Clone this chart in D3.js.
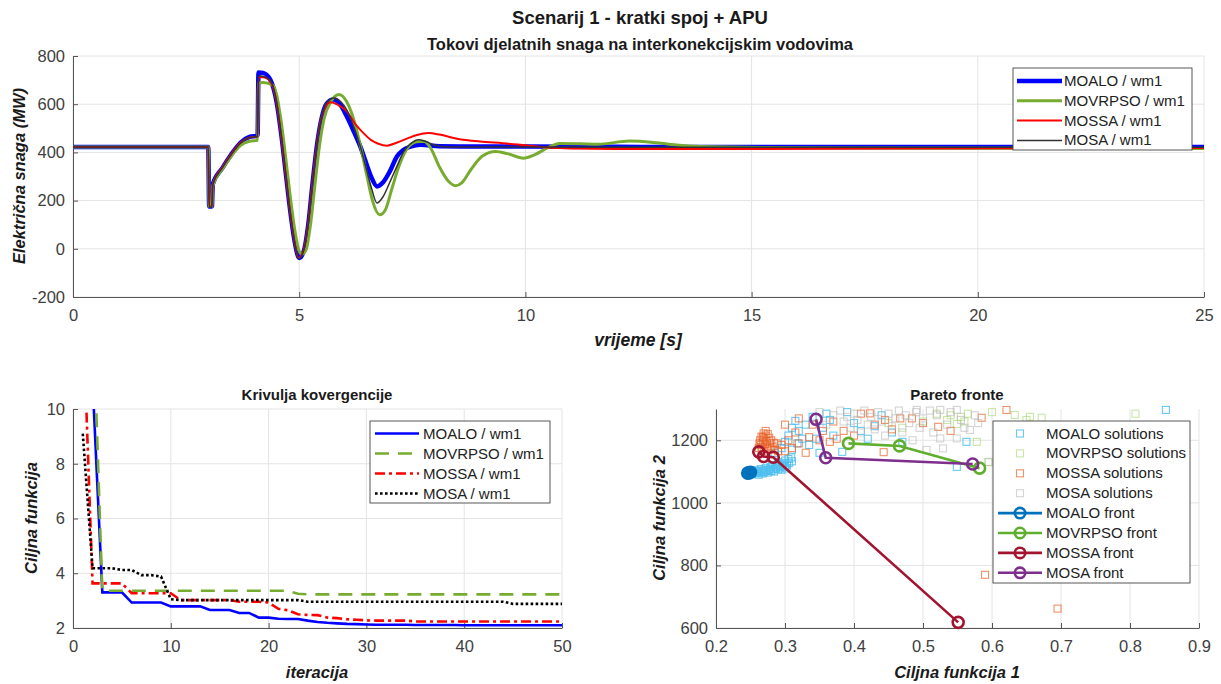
<!DOCTYPE html>
<html><head><meta charset="utf-8">
<script src="https://cdn.jsdelivr.net/npm/d3@7"></script>
<style>
body{margin:0;background:#fff}
text{font-family:"Liberation Sans",Arial,Helvetica,sans-serif}
</style>
</head><body>
<svg id="c" width="1221" height="684"></svg>
<script>
// ---------- DATA ----------
const algorithms = ["MOALO", "MOVRPSO", "MOSSA", "MOSA"];

// Top chart: active power flow [time s, MW]
const powerMOALO = [[0,422],[2.99,422],[3.01,176],[3.07,176],[3.09,268],[3.3,335],[3.5,392],[3.7,440],[3.9,464],[4.08,470],[4.1,732],[4.2,730],[4.36,702],[4.5,610],[4.6,480],[4.7,320],[4.8,160],[4.9,30],[5.0,-38],[5.1,-10],[5.2,100],[5.3,280],[5.4,440],[5.5,545],[5.6,600],[5.76,619],[5.9,600],[6.05,550],[6.2,490],[6.35,425],[6.5,345],[6.6,295],[6.72,259],[6.85,275],[7.0,320],[7.16,383],[7.3,410],[7.46,424],[7.68,432],[8.1,426],[9,424],[10,424],[12,423],[15,422],[20,422],[25,422]];
const powerMOVRPSO = [[0,422],[2.99,422],[3.01,176],[3.07,176],[3.09,262],[3.3,330],[3.5,385],[3.7,428],[3.9,446],[4.08,450],[4.1,688],[4.2,690],[4.4,680],[4.5,640],[4.6,530],[4.7,380],[4.8,220],[4.9,80],[5.0,-10],[5.06,-22],[5.15,-5],[5.25,100],[5.35,270],[5.45,430],[5.55,540],[5.7,610],[5.88,640],[6.05,610],[6.2,540],[6.35,430],[6.5,300],[6.62,200],[6.78,141],[6.9,160],[7.05,250],[7.2,340],[7.4,420],[7.6,444],[7.75,446],[7.9,420],[8.1,340],[8.3,280],[8.45,262],[8.6,275],[8.8,330],[9.05,385],[9.34,404],[9.6,395],[9.96,376],[10.2,390],[10.5,420],[10.76,437],[11.2,436],[11.6,434],[12.3,447],[12.9,440],[13.4,430],[14.5,422],[17,418],[25,416]];
const powerMOSSA = [[0,422],[2.99,422],[3.01,176],[3.07,176],[3.09,270],[3.3,338],[3.5,394],[3.7,440],[3.9,462],[4.08,466],[4.1,712],[4.2,712],[4.36,695],[4.5,605],[4.6,470],[4.7,310],[4.8,150],[4.9,25],[4.98,-38],[5.08,-15],[5.2,110],[5.3,290],[5.4,450],[5.5,550],[5.69,608],[5.85,598],[6.05,570],[6.25,515],[6.42,480],[6.6,450],[6.75,436],[6.94,428],[7.15,440],[7.38,457],[7.6,472],[7.86,480],[8.1,474],[8.49,457],[9.0,445],[9.5,438],[10,430],[10.5,420],[11,416],[12,414],[14,414],[18,416],[25,418]];
const powerMOSA = [[0,422],[2.99,422],[3.01,172],[3.07,172],[3.09,268],[3.3,336],[3.5,392],[3.7,438],[3.9,462],[4.08,466],[4.1,718],[4.2,716],[4.36,698],[4.5,610],[4.6,478],[4.7,318],[4.8,155],[4.9,25],[4.99,-40],[5.08,-18],[5.2,105],[5.3,285],[5.4,445],[5.5,550],[5.6,605],[5.78,626],[5.92,610],[6.05,577],[6.2,510],[6.35,425],[6.5,320],[6.6,250],[6.72,190],[6.85,215],[7.0,275],[7.16,342],[7.3,400],[7.46,436],[7.64,453],[7.8,445],[7.97,432],[8.27,422],[10,422],[15,421],[25,421]];
const timeTicks = [0, 5, 10, 15, 20, 25];
const powerTicks = [-200, 0, 200, 400, 600, 800];

// Bottom-left: convergence, objective per iteration 1..50
const convMOALO = [25,11,3.3,3.3,3.3,2.93,2.93,2.93,2.93,2.79,2.79,2.79,2.79,2.66,2.66,2.66,2.55,2.55,2.38,2.38,2.34,2.33,2.33,2.27,2.22,2.19,2.17,2.15,2.14,2.13,2.12,2.12,2.12,2.12,2.11,2.11,2.11,2.11,2.11,2.1,2.1,2.1,2.1,2.1,2.1,2.1,2.1,2.1,2.1,2.1];
const convMOVRPSO = [30,14,3.36,3.36,3.36,3.36,3.36,3.36,3.36,3.36,3.36,3.36,3.36,3.36,3.36,3.36,3.36,3.36,3.36,3.36,3.36,3.36,3.25,3.23,3.23,3.23,3.23,3.23,3.23,3.23,3.23,3.23,3.23,3.23,3.23,3.23,3.23,3.23,3.23,3.23,3.23,3.23,3.23,3.23,3.23,3.23,3.23,3.23,3.23,3.23];
const convMOSSA = [13.7,3.63,3.63,3.63,3.63,3.27,3.27,3.27,3.27,3.27,3.02,3.02,3.02,3.02,3.02,3.02,2.96,2.96,2.96,2.93,2.7,2.65,2.5,2.48,2.47,2.38,2.36,2.32,2.3,2.28,2.27,2.27,2.27,2.27,2.24,2.24,2.24,2.24,2.24,2.24,2.24,2.24,2.24,2.24,2.24,2.24,2.24,2.24,2.24,2.24];
const convMOSA = [9.1,4.18,4.18,4.18,4.12,4.12,3.93,3.93,3.88,3.05,3.02,3.02,3.02,3.02,3.02,3.02,3.02,3.02,3.02,3.02,3.02,3.02,3.02,2.96,2.96,2.96,2.96,2.96,2.96,2.96,2.96,2.96,2.96,2.96,2.96,2.96,2.96,2.96,2.96,2.96,2.96,2.96,2.96,2.96,2.88,2.88,2.88,2.88,2.88,2.88];
const iterTicks = [0, 10, 20, 30, 40, 50];
const objTicks = [2, 4, 6, 8, 10];

// Bottom-right: Pareto solutions and fronts [f1, f2]
const solMOALO = [[0.252,1092],[0.256,1094],[0.26,1096],[0.263,1098],[0.267,1100],[0.27,1098],[0.273,1103],[0.277,1105],[0.28,1102],[0.283,1108],[0.287,1110],[0.29,1107],[0.293,1113],[0.296,1118],[0.3,1115],[0.303,1122],[0.306,1128],[0.31,1133],[0.258,1104],[0.265,1108],[0.272,1112],[0.279,1114],[0.286,1119],[0.292,1124],[0.298,1128],[0.255,1100],[0.268,1094],[0.275,1097],[0.284,1100],[0.295,1106],[0.302,1110],[0.29,1130],[0.305,1140],[0.262,1090],[0.27,1105],[0.278,1109],[0.288,1114],[0.297,1122],[0.261,1102],[0.281,1120],[0.3,1135],[0.309,1145],[0.285,1160],[0.295,1175],[0.3,1195],[0.305,1215],[0.31,1240],[0.315,1262],[0.32,1230],[0.325,1205],[0.33,1250],[0.335,1185],[0.34,1275],[0.35,1160],[0.355,1240],[0.36,1285],[0.37,1215],[0.383,1163],[0.39,1290],[0.4,1255],[0.41,1230],[0.42,1205],[0.43,1245],[0.44,1280],[0.455,1225],[0.47,1195],[0.549,1115],[0.563,1195],[0.852,1297],[0.31,1170],[0.318,1190],[0.345,1205],[0.365,1265]];
const solMOVRPSO = [[0.52,1285],[0.535,1265],[0.54,1280],[0.549,1252],[0.555,1275],[0.56,1260],[0.565,1285],[0.578,1195],[0.595,1130],[0.6,1290],[0.633,1281],[0.655,1275],[0.672,1272],[0.65,1265],[0.808,1285],[0.5,1260],[0.47,1240],[0.45,1255]];
const solMOSSA = [[0.262,1175],[0.265,1185],[0.268,1195],[0.27,1205],[0.272,1215],[0.266,1170],[0.274,1180],[0.278,1190],[0.27,1165],[0.276,1172],[0.28,1200],[0.268,1210],[0.275,1220],[0.264,1200],[0.282,1180],[0.285,1170],[0.29,1165],[0.288,1190],[0.272,1230],[0.263,1190],[0.267,1178],[0.271,1188],[0.273,1198],[0.277,1208],[0.279,1176],[0.284,1192],[0.269,1222],[0.266,1212],[0.295,1185],[0.3,1165],[0.305,1200],[0.31,1175],[0.315,1225],[0.32,1190],[0.33,1160],[0.335,1210],[0.34,1250],[0.35,1200],[0.355,1230],[0.365,1195],[0.37,1260],[0.375,1205],[0.385,1230],[0.4,1215],[0.41,1285],[0.423,1286],[0.43,1250],[0.443,1162],[0.445,1265],[0.455,1235],[0.467,1270],[0.484,1270],[0.5,1255],[0.522,1243],[0.54,1230],[0.585,1272],[0.621,1297],[0.59,770],[0.695,662],[0.3,1250],[0.32,1270]];
const solMOSA = [[0.37,1280],[0.38,1295],[0.385,1260],[0.39,1275],[0.395,1240],[0.4,1285],[0.405,1265],[0.41,1225],[0.415,1295],[0.42,1250],[0.425,1275],[0.43,1235],[0.435,1290],[0.44,1260],[0.445,1215],[0.45,1285],[0.455,1245],[0.46,1270],[0.465,1295],[0.47,1225],[0.475,1280],[0.48,1255],[0.485,1200],[0.49,1290],[0.491,1297],[0.495,1240],[0.5,1270],[0.505,1169],[0.51,1295],[0.515,1225],[0.52,1280],[0.525,1206],[0.525,1297],[0.529,1174],[0.535,1250],[0.54,1290],[0.549,1206],[0.549,1297],[0.555,1265],[0.56,1240],[0.568,1233],[0.575,1280],[0.58,1255],[0.595,1131],[0.36,1250],[0.35,1290]];
const frontMOALO = [[0.246,1095],[0.248,1096],[0.25,1098]];
const frontMOVRPSO = [[0.392,1190],[0.466,1182],[0.582,1111]];
const frontMOSSA = [[0.262,1163],[0.269,1148],[0.283,1146],[0.551,618]];
const frontMOSA = [[0.345,1267],[0.359,1144],[0.572,1124]];
const f1Ticks = [0.2, 0.3, 0.4, 0.5, 0.6, 0.7, 0.8, 0.9];
const f2Ticks = [600, 800, 1000, 1200];

// ---------- DRAWING ----------
const svg = d3.select("#c");
const FONT = 16.5;
const tickCol = "#404040", axisCol = "#555", gridCol = "#e4e4e4";
const plain = d => String(d);

function frame(left, top, w, h, x, y, xt, yt, xf, yf, id) {
  const g = svg.append("g").attr("transform", `translate(${left},${top})`);
  g.append("defs").append("clipPath").attr("id", id).append("rect").attr("width", w).attr("height", h);
  g.append("g").selectAll("line").data(xt).join("line")
    .attr("x1", d => x(d)).attr("x2", d => x(d)).attr("y1", 0).attr("y2", h)
    .attr("stroke", gridCol).attr("stroke-width", 1);
  g.append("g").selectAll("line").data(yt).join("line")
    .attr("y1", d => y(d)).attr("y2", d => y(d)).attr("x1", 0).attr("x2", w)
    .attr("stroke", gridCol).attr("stroke-width", 1);
  const ax = g.append("g").attr("transform", `translate(0,${h})`)
    .call(d3.axisBottom(x).tickValues(xt).tickFormat(xf).tickSizeInner(-5).tickSizeOuter(0).tickPadding(12));
  const ay = g.append("g")
    .call(d3.axisLeft(y).tickValues(yt).tickFormat(yf).tickSizeInner(-5).tickSizeOuter(0).tickPadding(8));
  [ax, ay].forEach(a => {
    a.select(".domain").attr("stroke", axisCol);
    a.selectAll(".tick line").attr("stroke", axisCol);
    a.selectAll("text").attr("fill", tickCol).style("font-size", FONT + "px")
      .style("font-family", '"Liberation Sans",Arial,sans-serif');
  });
  return g;
}

function label(txt, x, y, opts) {
  const t = svg.append("text").attr("x", x).attr("y", y).attr("text-anchor", "middle")
    .style("font-size", (opts.size || 16.5) + "px").style("font-weight", "bold")
    .attr("fill", opts.fill || "#1a1a1a").text(txt);
  if (opts.italic) t.style("font-style", "italic");
  if (opts.rot) t.attr("transform", `rotate(-90,${x},${y})`);
  return t;
}

// ===== Top chart =====
{
  const L = 73, T = 56, W = 1204 - 73, H = 297 - 56;
  const x = d3.scaleLinear().domain([0, 25]).range([0, W]);
  const y = d3.scaleLinear().domain([-200, 800]).range([H, 0]);
  const g = frame(L, T, W, H, x, y, timeTicks, powerTicks, plain, plain, "clipTop");
  const line = d3.line().x(d => x(d[0])).y(d => y(d[1])).curve(d3.curveMonotoneX);
  const series = [
    {name: "MOALO / wm1", data: powerMOALO, color: "#0000ff", w: 4.5},
    {name: "MOVRPSO / wm1", data: powerMOVRPSO, color: "#77ac30", w: 3},
    {name: "MOSSA / wm1", data: powerMOSSA, color: "#ff0000", w: 2},
    {name: "MOSA / wm1", data: powerMOSA, color: "#333333", w: 1.5}
  ];
  const pg = g.append("g").attr("clip-path", "url(#clipTop)");
  series.forEach(s => pg.append("path").attr("d", line(s.data)).attr("fill", "none")
    .attr("stroke", s.color).attr("stroke-width", s.w).attr("stroke-linejoin", "round"));
  const lg = svg.append("g");
  lg.append("rect").attr("x", 1013).attr("y", 68).attr("width", 179).attr("height", 82)
    .attr("fill", "#fff").attr("stroke", "#444").attr("stroke-width", 0.9);
  series.forEach((s, i) => {
    const yy = 81 + i * 19.8;
    lg.append("line").attr("x1", 1017).attr("x2", 1062).attr("y1", yy).attr("y2", yy)
      .attr("stroke", s.color).attr("stroke-width", s.w);
    lg.append("text").attr("x", 1064).attr("y", yy + 5).style("font-size", "15px")
      .attr("fill", "#222").text(s.name);
  });
  label("Scenarij 1 - kratki spoj + APU", 640, 24, {size: 18.5});
  label("Tokovi djelatnih snaga na interkonekcijskim vodovima", 640, 50, {size: 16.5});
  label("vrijeme [s]", 638, 346, {italic: true, size: 17.5});
  label("Električna snaga (MW)", 19, 176, {italic: true, rot: true, size: 16.5}).attr("dy", "0.35em");
}

// ===== Bottom-left: convergence =====
{
  const L = 73, T = 409, W = 562 - 73, H = 628 - 409;
  const x = d3.scaleLinear().domain([0, 50]).range([0, W]);
  const y = d3.scaleLinear().domain([2, 10]).range([H, 0]);
  const g = frame(L, T, W, H, x, y, iterTicks, objTicks, plain, plain, "clipConv");
  const line = d3.line().x((d, i) => x(i + 1)).y(d => y(d));
  const series = [
    {name: "MOALO / wm1", data: convMOALO, color: "#0000ff", dash: null},
    {name: "MOVRPSO / wm1", data: convMOVRPSO, color: "#77ac30", dash: "14,9"},
    {name: "MOSSA / wm1", data: convMOSSA, color: "#ff0000", dash: "10,4,3,4"},
    {name: "MOSA / wm1", data: convMOSA, color: "#000000", dash: "2.6,2.4"}
  ];
  const pg = g.append("g").attr("clip-path", "url(#clipConv)");
  series.forEach(s => pg.append("path").attr("d", line(s.data)).attr("fill", "none")
    .attr("stroke", s.color).attr("stroke-width", 2.6).attr("stroke-dasharray", s.dash));
  const lg = svg.append("g");
  lg.append("rect").attr("x", 370).attr("y", 421).attr("width", 180).attr("height", 82)
    .attr("fill", "#fff").attr("stroke", "#444").attr("stroke-width", 0.9);
  series.forEach((s, i) => {
    const yy = 433.5 + i * 20;
    lg.append("line").attr("x1", 375).attr("x2", 419).attr("y1", yy).attr("y2", yy)
      .attr("stroke", s.color).attr("stroke-width", 2.6).attr("stroke-dasharray", s.dash);
    lg.append("text").attr("x", 423).attr("y", yy + 5).style("font-size", "15px")
      .attr("fill", "#222").text(s.name);
  });
  label("Krivulja kovergencije", 317, 400, {size: 15});
  label("iteracija", 317, 678, {italic: true});
  label("Ciljna funkcija", 31, 518, {italic: true, rot: true}).attr("dy", "0.35em");
}

// ===== Bottom-right: Pareto =====
{
  const L = 716, T = 409, W = 1199 - 716, H = 628 - 409;
  const x = d3.scaleLinear().domain([0.2, 0.9]).range([0, W]);
  const y = d3.scaleLinear().domain([600, 1300]).range([H, 0]);
  const g = frame(L, T, W, H, x, y, f1Ticks, f2Ticks, d3.format(".1f"), plain, "clipPar");
  const sols = [
    {name: "MOALO solutions", data: solMOALO, color: "#4dbeee", op: 0.85},
    {name: "MOVRPSO solutions", data: solMOVRPSO, color: "#a6d36e", op: 0.6},
    {name: "MOSSA solutions", data: solMOSSA, color: "#e8632a", op: 0.7},
    {name: "MOSA solutions", data: solMOSA, color: "#b8b8b8", op: 0.6}
  ];
  const fronts = [
    {name: "MOALO front", data: frontMOALO, color: "#0072bd", fill: "#0072bd"},
    {name: "MOVRPSO front", data: frontMOVRPSO, color: "#5fae2e", fill: "none"},
    {name: "MOSSA front", data: frontMOSSA, color: "#a2142f", fill: "none"},
    {name: "MOSA front", data: frontMOSA, color: "#7e2f8e", fill: "none"}
  ];
  const s = 7;
  sols.forEach(sd => g.append("g").selectAll("rect").data(sd.data).join("rect")
    .attr("x", d => x(d[0]) - s / 2).attr("y", d => y(d[1]) - s / 2)
    .attr("width", s).attr("height", s).attr("fill", "none")
    .attr("stroke", sd.color).attr("stroke-opacity", sd.op).attr("stroke-width", 1.1));
  const line = d3.line().x(d => x(d[0])).y(d => y(d[1]));
  fronts.forEach(f => {
    g.append("path").attr("d", line(f.data)).attr("fill", "none").attr("stroke", f.color).attr("stroke-width", 2.6);
    g.append("g").selectAll("circle").data(f.data).join("circle")
      .attr("cx", d => x(d[0])).attr("cy", d => y(d[1])).attr("r", 5.5)
      .attr("fill", f.fill).attr("stroke", f.color).attr("stroke-width", 2.6);
  });
  const lg = svg.append("g");
  lg.append("rect").attr("x", 993).attr("y", 421).attr("width", 197).attr("height", 162)
    .attr("fill", "#fff").attr("stroke", "#444").attr("stroke-width", 0.9);
  sols.forEach((sd, i) => {
    const yy = 433.5 + i * 19.9;
    lg.append("rect").attr("x", 1020 - s / 2).attr("y", yy - s / 2).attr("width", s).attr("height", s)
      .attr("fill", "none").attr("stroke", sd.color).attr("stroke-opacity", sd.op).attr("stroke-width", 1.1);
    lg.append("text").attr("x", 1046).attr("y", yy + 5).style("font-size", "15px").attr("fill", "#222").text(sd.name);
  });
  fronts.forEach((f, i) => {
    const yy = 433.5 + (i + 4) * 19.9;
    lg.append("line").attr("x1", 998).attr("x2", 1042).attr("y1", yy).attr("y2", yy)
      .attr("stroke", f.color).attr("stroke-width", 2.6);
    lg.append("circle").attr("cx", 1020).attr("cy", yy).attr("r", 5.2)
      .attr("fill", "none").attr("stroke", f.color).attr("stroke-width", 2.6);
    lg.append("text").attr("x", 1046).attr("y", yy + 5).style("font-size", "15px").attr("fill", "#222").text(f.name);
  });
  label("Pareto fronte", 957, 400, {size: 15});
  label("Ciljna funkcija 1", 957, 678, {italic: true});
  label("Ciljna funkcija 2", 659, 518, {italic: true, rot: true}).attr("dy", "0.35em");
}
</script>
</body></html>
